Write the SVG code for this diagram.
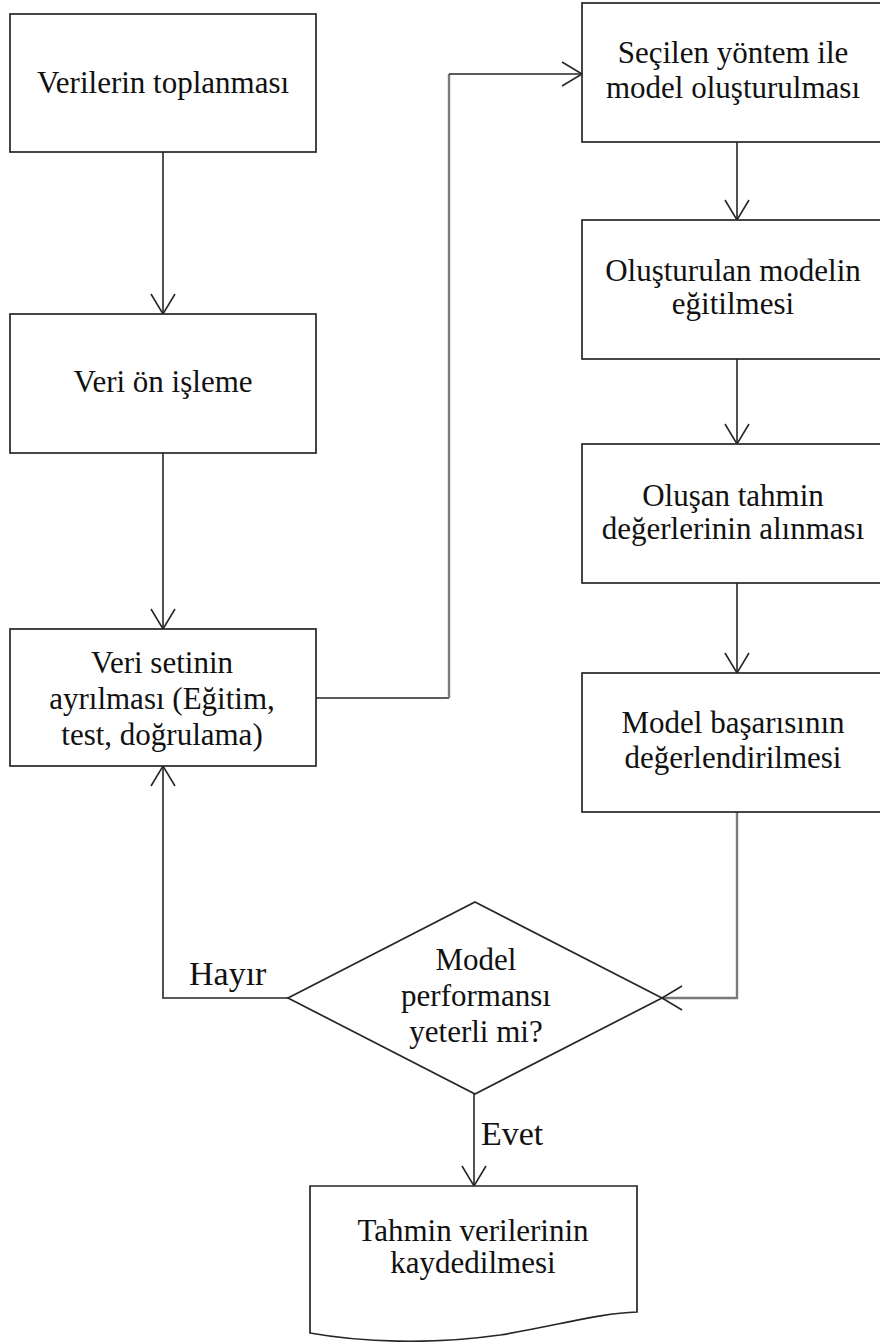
<svg xmlns="http://www.w3.org/2000/svg" width="880" height="1342" viewBox="0 0 880 1342">
<style>
.box{fill:#fff;stroke:#262626;stroke-width:1.7}
.t{font-family:"Liberation Serif","Times New Roman",serif;font-size:31px;fill:#111;text-anchor:middle}
.lbl{font-family:"Liberation Serif","Times New Roman",serif;font-size:34px;fill:#111}
.c{fill:none;stroke:#262626;stroke-width:1.6}
.g{fill:none;stroke:#7a7a7a;stroke-width:2.4}
</style>
<defs>
<marker id="arr" markerUnits="userSpaceOnUse" markerWidth="26" markerHeight="30" viewBox="-23 -15 26 30" refX="0" refY="0" orient="auto">
<path d="M-20,-12 L0,0 L-20,12" fill="none" stroke="#262626" stroke-width="1.6"/>
</marker>
</defs>
<rect width="880" height="1342" fill="#fff"/>
<g id="connectors">
<line class="c" x1="163" y1="152" x2="163" y2="314" marker-end="url(#arr)"/>
<line class="c" x1="163" y1="453" x2="163" y2="629" marker-end="url(#arr)"/>
<polyline class="c" points="316,698 449,698"/>
<line class="g" x1="449" y1="698" x2="449" y2="74"/>
<polyline class="c" points="449,74 582,74" marker-end="url(#arr)"/>
<line class="c" x1="737" y1="142" x2="737" y2="220" marker-end="url(#arr)"/>
<line class="c" x1="737" y1="359" x2="737" y2="444" marker-end="url(#arr)"/>
<line class="c" x1="737" y1="583" x2="737" y2="673" marker-end="url(#arr)"/>
<polyline class="g" points="737,812 737,998 662,998" marker-end="url(#arr)"/>
<polyline class="c" points="288,998 163,998 163,766" marker-end="url(#arr)"/>
<line class="c" x1="474" y1="1094" x2="474" y2="1186" marker-end="url(#arr)"/>
<text class="lbl" x="189" y="985">Hayır</text>
<text class="lbl" x="481" y="1145">Evet</text>
</g>
<g id="n1">
<rect class="box" x="10" y="14" width="306" height="138"/>
<text class="t" x="163" y="93">Verilerin toplanması</text>
</g>
<g id="n2">
<rect class="box" x="10" y="314" width="306" height="139"/>
<text class="t" x="163" y="392">Veri ön işleme</text>
</g>
<g id="n3">
<rect class="box" x="10" y="629" width="306" height="137"/>
<text class="t" x="162" y="673">Veri setinin</text>
<text class="t" x="162" y="709">ayrılması (Eğitim,</text>
<text class="t" x="162" y="745">test, doğrulama)</text>
</g>
<g id="n4">
<rect class="box" x="582" y="3" width="304" height="139"/>
<text class="t" x="733" y="63">Seçilen yöntem ile</text>
<text class="t" x="733" y="98">model oluşturulması</text>
</g>
<g id="n5">
<rect class="box" x="582" y="220" width="304" height="139"/>
<text class="t" x="733" y="281">Oluşturulan modelin</text>
<text class="t" x="733" y="314">eğitilmesi</text>
</g>
<g id="n6">
<rect class="box" x="582" y="444" width="304" height="139"/>
<text class="t" x="733" y="506">Oluşan tahmin</text>
<text class="t" x="733" y="539">değerlerinin alınması</text>
</g>
<g id="n7">
<rect class="box" x="582" y="673" width="304" height="139"/>
<text class="t" x="733" y="733">Model başarısının</text>
<text class="t" x="733" y="768">değerlendirilmesi</text>
</g>
<g id="n8">
<polygon class="box" points="475,902 662,998 475,1094 288,998" stroke-width="1.5"/>
<text class="t" x="476" y="970">Model</text>
<text class="t" x="476" y="1006">performansı</text>
<text class="t" x="476" y="1042">yeterli mi?</text>
</g>
<g id="n9">
<path class="box" d="M310,1186 H637 V1312 C600,1313 560,1325 500,1335 C430,1345 360,1342 310,1333 Z"/>
<text class="t" x="473" y="1241">Tahmin verilerinin</text>
<text class="t" x="473" y="1273">kaydedilmesi</text>
</g>
</svg>
